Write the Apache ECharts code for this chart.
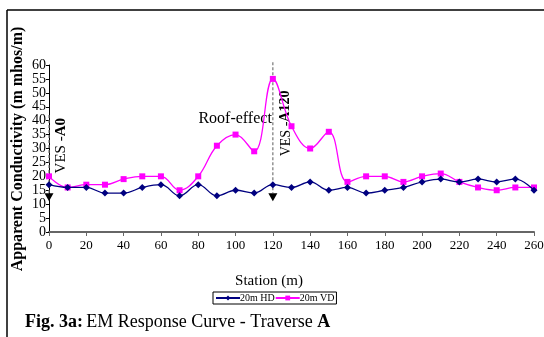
<!DOCTYPE html>
<html>
<head>
<meta charset="utf-8">
<script src="https://cdn.jsdelivr.net/npm/echarts@6/dist/echarts.min.js"></script>
<style>
  html, body { margin: 0; padding: 0; background: #fff; }
  #chart { width: 544px; height: 337px; }
</style>
</head>
<body>
<div id="chart"></div>
<script>
// station positions (m)
var stations = [0, 10, 20, 30, 40, 50, 60, 70, 80, 90, 100, 110, 120, 130,
                140, 150, 160, 170, 180, 190, 200, 210, 220, 230, 240, 250, 260];
// 20m horizontal dipole
var hd = [17, 16, 16, 14, 14, 16, 17, 13, 17, 13, 15, 14, 17, 16,
          18, 15, 16, 14, 15, 16, 18, 19, 18, 19, 18, 19, 15];
// 20m vertical dipole
var vd = [20, 16, 17, 17, 19, 20, 20, 15, 20, 31, 35, 29, 55, 38,
          30, 36, 18, 20, 20, 18, 20, 21, 18, 16, 15, 16, 16];

var serif = '"Liberation Serif", "Times New Roman", serif';

function pairs(xs, ys) {
    return xs.map(function (x, i) { return [x, ys[i]]; });
}

var myChart = echarts.init(document.getElementById('chart'));

var option = {
    animation: false,
    backgroundColor: '#fff',
    grid: { left: 49, right: 10, top: 65, bottom: 105, outerBoundsMode: 'none' },
    xAxis: {
        type: 'value', min: 0, max: 260, interval: 20,
        splitLine: { show: false },
        axisLine: { lineStyle: { color: '#666', width: 2 } },
        axisTick: { length: 4, lineStyle: { color: '#666' } },
        axisLabel: { color: '#000', fontFamily: serif, fontSize: 13, margin: 7 }
    },
    yAxis: {
        type: 'value', min: 0, max: 60, interval: 5,
        splitLine: { show: false },
        axisLine: { show: true, lineStyle: { color: '#000', width: 1 } },
        axisTick: { show: true, length: 3, lineStyle: { color: '#000' } },
        axisLabel: { color: '#000', fontFamily: serif, fontSize: 14, margin: 3 }
    },
    legend: {
        left: 213, top: 292,
        itemWidth: 24, itemHeight: 6, itemGap: 0,
        padding: [1, 2],
        borderColor: '#000', borderWidth: 1,
        textStyle: { color: '#000', fontFamily: serif, fontSize: 10, padding: [0, 0, 0, -5] },
        data: ['20m HD', '20m VD']
    },
    series: [
        {
            name: '20m HD', type: 'line', smooth: 0.4,
            data: pairs(stations, hd),
            symbol: 'diamond', symbolSize: 7,
            lineStyle: { color: '#000080', width: 1.3 },
            itemStyle: { color: '#000080' },
            z: 3,
            markPoint: {
                silent: true, symbol: 'triangle', symbolSize: [9, 8], symbolRotate: 180,
                itemStyle: { color: '#000' }, label: { show: false },
                data: [{ coord: [0, 12.5] }, { coord: [120, 12.5] }]
            }
        },
        {
            name: '20m VD', type: 'line', smooth: 0.4,
            data: pairs(stations, vd),
            symbol: 'rect', symbolSize: 6,
            lineStyle: { color: '#ff00ff', width: 1.3 },
            itemStyle: { color: '#ff00ff' },
            z: 2
        }
    ]
};
myChart.setOption(option);

// annotations placed from the axes' own scales
function px(x, y) { return myChart.convertToPixel({ gridIndex: 0 }, [x, y]); }
var d0a = px(0, 42), d0b = px(0, 14);
var d1a = px(120, 61), d1b = px(120, 14);
var pA0 = px(0, 31);
var pA120 = px(120, 39);
var pRoof = px(120, 41);

function rich(size) {
    return {
        n: { fontFamily: serif, fontSize: size, fill: '#000' },
        b: { fontFamily: serif, fontSize: size, fontWeight: 'bold', fill: '#000' }
    };
}

myChart.setOption({
    graphic: [
        // chart frame
        { type: 'line', shape: { x1: 7, y1: 10, x2: 544, y2: 10 }, style: { stroke: '#000', lineWidth: 1.5 } },
        { type: 'line', shape: { x1: 7, y1: 10, x2: 7, y2: 337 }, style: { stroke: '#000', lineWidth: 1.5 } },
        // y axis title
        {
            type: 'text', x: 18, y: 149, rotation: Math.PI / 2,
            style: {
                text: 'Apparent Conductivity (m mhos/m)', align: 'center', verticalAlign: 'middle',
                font: 'bold 16px ' + serif, fill: '#000'
            }
        },
        // VES markers
        { type: 'line', z: 1, shape: { x1: d0a[0], y1: d0a[1], x2: d0b[0], y2: d0b[1] },
          style: { stroke: '#777', lineWidth: 1.2, lineDash: [3, 2] } },
        { type: 'line', z: 1, shape: { x1: d1a[0], y1: d1a[1], x2: d1b[0], y2: d1b[1] },
          style: { stroke: '#777', lineWidth: 1.2, lineDash: [3, 2] } },
        {
            type: 'text', x: pA0[0] + 12, y: pA0[1], rotation: Math.PI / 2,
            style: { text: '{n|VES -}{b|A0}', align: 'center', verticalAlign: 'middle', rich: rich(15) }
        },
        {
            type: 'text', x: pA120[0] + 13, y: pA120[1], rotation: Math.PI / 2,
            style: { text: '{n|VES -}{b|A120}', align: 'center', verticalAlign: 'middle', rich: rich(14) }
        },
        {
            type: 'text', x: pRoof[0] - 1, y: pRoof[1] + 1,
            style: {
                text: 'Roof-effect', align: 'right', verticalAlign: 'middle',
                font: '16px ' + serif, fill: '#000'
            }
        },
        {
            type: 'text', x: 269, y: 281,
            style: {
                text: 'Station (m)', align: 'center', verticalAlign: 'middle',
                font: '15px ' + serif, fill: '#000'
            }
        },
        {
            type: 'text', x: 25, y: 322,
            style: {
                text: '{b|Fig. 3a:} {n|EM Response Curve - Traverse }{b|A}',
                verticalAlign: 'middle', rich: rich(18)
            }
        }
    ]
});
</script>
</body>
</html>
